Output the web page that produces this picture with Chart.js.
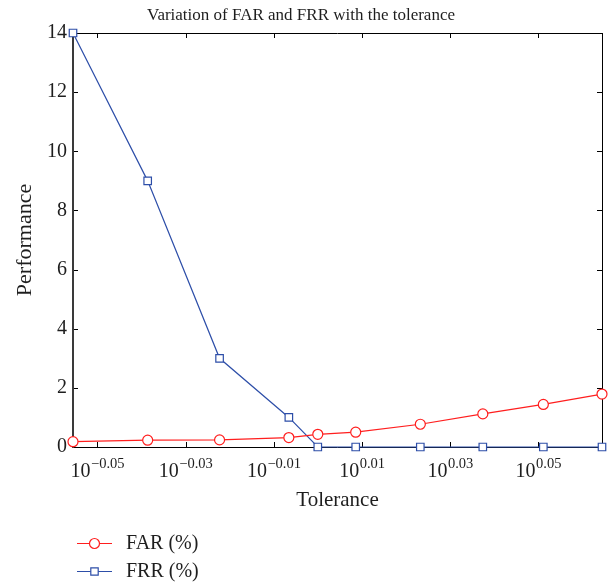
<!DOCTYPE html>
<html><head><meta charset="utf-8">
<script src="https://cdn.jsdelivr.net/npm/chart.js@4.4.1/dist/chart.umd.min.js"></script>
<style>html,body{margin:0;padding:0;background:#fff}#wrap{width:613px;height:583px}</style>
</head><body><div id="wrap"><canvas id="c" width="613" height="583"></canvas></div>
<script>
const tolerance = [0.88, 0.915, 0.95, 0.985, 1.0, 1.02, 1.055, 1.09, 1.125, 1.16];
const farValues = [0.18, 0.23, 0.24, 0.32, 0.43, 0.50, 0.77, 1.12, 1.44, 1.79];
const frrValues = [14, 9, 3, 1, 0, 0, 0, 0, 0, 0];
const xTickExponents = [-0.05, -0.03, -0.01, 0.01, 0.03, 0.05];
const xTickLabels = ['\u22120.05', '\u22120.03', '\u22120.01', '0.01', '0.03', '0.05'];
const yTicks = [0, 2, 4, 6, 8, 10, 12, 14];
const seriesNames = ['FAR (%)', 'FRR (%)'];
const seriesColors = ['#ff1e1e', '#2d4ea8'];
const seriesMarkers = ['circle', 'rect'];

const FONT = "'Liberation Serif', 'Times New Roman', serif";
const TXT = '#1e1e1e';
Chart.defaults.font.family = FONT;
Chart.defaults.font.size = 20;
Chart.defaults.color = TXT;

function drawMarker(ctx, style, x, y, color) {
  ctx.save();
  ctx.strokeStyle = color; ctx.fillStyle = '#fff'; ctx.lineWidth = 1.2;
  ctx.beginPath();
  if (style === 'circle') ctx.arc(x, y, 5, 0, Math.PI * 2);
  else ctx.rect(x - 3.7, y - 3.7, 7.4, 7.4);
  ctx.fill(); ctx.stroke();
  ctx.restore();
}

const framePlugin = {
  id: 'frame',
  beforeDatasetsDraw(chart) {
    const {ctx, chartArea: {left, right, top, bottom}, scales: {x, y}} = chart;
    ctx.save();
    ctx.strokeStyle = '#000'; ctx.lineWidth = 1;
    ctx.beginPath();
    x.ticks.forEach(t => {
      const px = Math.round(x.getPixelForValue(t.value)) + 0.5;
      ctx.moveTo(px, bottom); ctx.lineTo(px, bottom - 5);
      ctx.moveTo(px, top); ctx.lineTo(px, top + 5);
    });
    y.ticks.forEach(t => {
      const py = Math.round(y.getPixelForValue(t.value)) + 0.5;
      ctx.moveTo(left, py); ctx.lineTo(left + 5, py);
      ctx.moveTo(right, py); ctx.lineTo(right - 5, py);
    });
    ctx.moveTo(left, top + 0.5); ctx.lineTo(right, top + 0.5);
    ctx.moveTo(left, bottom + 0.5); ctx.lineTo(right, bottom + 0.5);
    ctx.moveTo(right + 0.5, top); ctx.lineTo(right + 0.5, bottom + 1);
    ctx.stroke();
    ctx.beginPath();
    ctx.strokeStyle = '#3a3a3a'; ctx.lineWidth = 2;
    ctx.moveTo(left, top); ctx.lineTo(left, bottom + 1);
    ctx.stroke();
    ctx.restore();
  },
  afterDraw(chart) {
    const {ctx, chartArea: {bottom}, scales: {x}} = chart;
    ctx.save();
    ctx.fillStyle = TXT;
    ctx.textBaseline = 'alphabetic';
    x.ticks.forEach((t, i) => {
      const px = x.getPixelForValue(t.value);
      const exp = xTickLabels[i];
      ctx.font = '20px ' + FONT;
      const w1 = ctx.measureText('10').width;
      ctx.font = '14.5px ' + FONT;
      const w2 = ctx.measureText(exp).width;
      const x0 = px - (w1 + w2) / 2;
      ctx.font = '20px ' + FONT;
      ctx.textAlign = 'left';
      ctx.fillText('10', x0, bottom + 29.7);
      ctx.font = '14.5px ' + FONT;
      ctx.fillText(exp, x0 + w1 + 0.5, bottom + 21);
    });
    // legend
    const rows = [543, 571];
    chart.data.datasets.forEach((ds, i) => {
      const yy = rows[i];
      ctx.strokeStyle = ds.borderColor; ctx.lineWidth = 1.2;
      ctx.beginPath(); ctx.moveTo(77, yy + 0.5); ctx.lineTo(112, yy + 0.5); ctx.stroke();
      drawMarker(ctx, seriesMarkers[i], 94.5, yy + 0.5, ds.borderColor);
      ctx.fillStyle = TXT;
      ctx.font = '20px ' + FONT;
      ctx.textAlign = 'left'; ctx.textBaseline = 'middle';
      ctx.fillText(ds.label, 126, yy + 1);
    });
    ctx.restore();
  }
};

const makeData = vals => tolerance.map((t, i) => ({x: t, y: vals[i]}));

new Chart(document.getElementById('c'), {
  type: 'line',
  data: {
    datasets: [farValues, frrValues].map((vals, i) => ({
      label: seriesNames[i],
      data: makeData(vals),
      borderColor: seriesColors[i],
      backgroundColor: '#fff',
      pointBackgroundColor: '#fff',
      pointBorderColor: seriesColors[i],
      pointStyle: seriesMarkers[i],
      pointRadius: i === 0 ? 5 : 5.3,
      pointBorderWidth: 1.2,
      borderWidth: 1.2,
      tension: 0,
      clip: false
    }))
  },
  options: {
    responsive: false,
    animation: false,
    devicePixelRatio: 1,
    layout: {padding: {left: 0, right: 11, top: 0, bottom: 0}},
    plugins: {
      legend: {display: false},
      tooltip: {enabled: false},
      title: {
        display: true,
        text: 'Variation of FAR and FRR with the tolerance',
        color: TXT,
        font: {family: FONT, size: 17, weight: 'normal'},
        padding: {top: 5, bottom: 7.6}
      }
    },
    scales: {
      x: {
        type: 'logarithmic',
        min: tolerance[0], max: tolerance[tolerance.length - 1],
        bounds: 'data',
        grid: {display: false, drawTicks: false},
        border: {display: false},
        ticks: {autoSkip: false, callback: () => '', maxRotation: 0},
        afterBuildTicks: s => { s.ticks = xTickExponents.map(e => ({value: Math.pow(10, e)})); },
        afterFit: s => { s.height = 136; },
        title: {display: true, text: 'Tolerance', color: TXT, font: {family: FONT, size: 21}, padding: {top: 0, bottom: 70.4}}
      },
      y: {
        type: 'linear',
        min: 0, max: 14,
        grid: {display: false, drawTicks: false},
        border: {display: false},
        ticks: {padding: 6, color: TXT, font: {family: FONT, size: 20}},
        afterBuildTicks: s => { s.ticks = yTicks.map(v => ({value: v})); },
        afterFit: s => { s.width = 73; },
        title: {display: true, text: 'Performance', color: TXT, font: {family: FONT, size: 22}, padding: {top: 12, bottom: 0}}
      }
    }
  },
  plugins: [framePlugin]
});
</script>
</body></html>
